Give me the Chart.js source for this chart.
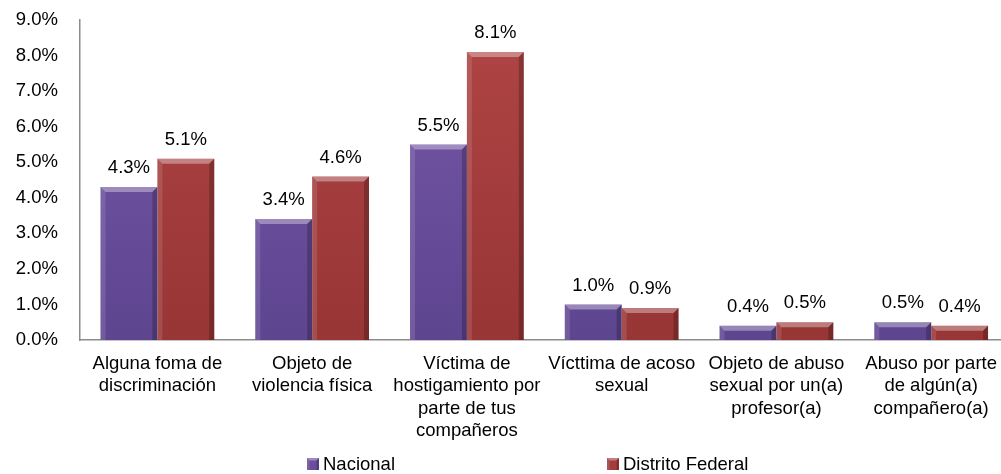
<!DOCTYPE html>
<html>
<head>
<meta charset="utf-8">
<script src="https://cdn.jsdelivr.net/npm/chart.js@4/dist/chart.umd.min.js"></script>
<style>
  html, body { margin: 0; padding: 0; background: #fff; overflow: hidden; }
  #wrap { width: 1010px; height: 474px; }
</style>
</head>
<body>
<div id="wrap"><canvas id="myChart" width="1010" height="474"></canvas></div>
<script>
// Data chart
const categories = [
    ["Alguna foma de", "discriminación"],
    ["Objeto de", "violencia física"],
    ["Víctima de", "hostigamiento por", "parte de tus", "compañeros"],
    ["Vícttima de acoso", "sexual"],
    ["Objeto de abuso", "sexual por un(a)", "profesor(a)"],
    ["Abuso por parte", "de algún(a)", "compañero(a)"]
];
const nacional = [4.3, 3.4, 5.5, 1.0, 0.4, 0.5];
const distritoFederal = [5.1, 4.6, 8.1, 0.9, 0.5, 0.4];
const seriesNames = ["Nacional", "Distrito Federal"];
const yTicks = [0, 1, 2, 3, 4, 5, 6, 7, 8, 9];

const FONT = "'Liberation Sans', Arial, sans-serif";
const FSIZE = 18.5;

// gradient vertikal untuk batang
function barGradient(top, bottom) {
    return function(context) {
        const chart = context.chart;
        const area = chart.chartArea;
        if (!area) return top;
        const g = chart.ctx.createLinearGradient(0, area.top, 0, area.bottom);
        g.addColorStop(0, top);
        g.addColorStop(1, bottom);
        return g;
    };
}

function drawBevel(ctx, x0, y0, x1, y1, b) {
    ctx.fillStyle = 'rgba(255,255,255,0.35)';
    ctx.beginPath();
    ctx.moveTo(x0, y0); ctx.lineTo(x1, y0);
    ctx.lineTo(x1 - b, y0 + b); ctx.lineTo(x0 + b, y0 + b);
    ctx.closePath(); ctx.fill();
    ctx.fillStyle = 'rgba(255,255,255,0.12)';
    ctx.beginPath();
    ctx.moveTo(x0, y0); ctx.lineTo(x0 + b, y0 + b);
    ctx.lineTo(x0 + b, y1); ctx.lineTo(x0, y1);
    ctx.closePath(); ctx.fill();
    ctx.fillStyle = 'rgba(0,0,0,0.22)';
    ctx.beginPath();
    ctx.moveTo(x1, y0); ctx.lineTo(x1 - b, y0 + b);
    ctx.lineTo(x1 - b, y1); ctx.lineTo(x1, y1);
    ctx.closePath(); ctx.fill();
}

// Plugin: efek bevel + label nilai di atas batang
const bevelLabels = {
    id: 'bevelLabels',
    afterDatasetsDraw(chart) {
        const ctx = chart.ctx;
        chart.data.datasets.forEach((ds, di) => {
            const meta = chart.getDatasetMeta(di);
            meta.data.forEach((bar, i) => {
                const w = bar.width;
                const h = bar.base - bar.y;
                ctx.save();
                drawBevel(ctx, bar.x - w / 2, bar.y, bar.x + w / 2, bar.base, Math.min(5, h / 2));
                ctx.restore();

                ctx.save();
                ctx.fillStyle = '#000';
                ctx.font = FSIZE + 'px ' + FONT;
                ctx.textAlign = 'center';
                ctx.textBaseline = 'middle';
                ctx.fillText(ds.data[i].toFixed(1) + '%', bar.x, bar.y - 19);
                ctx.restore();
            });
        });
    }
};

// Plugin: legenda manual (jarak antar item lebar seperti aslinya)
const legendPositions = [307, 607];
const legendColors = ['#6a4e9c', '#a43d3d'];
const customLegend = {
    id: 'customLegend',
    afterDraw(chart) {
        const ctx = chart.ctx;
        const y = 464;
        seriesNames.forEach((name, i) => {
            const x = legendPositions[i];
            ctx.save();
            ctx.fillStyle = legendColors[i];
            ctx.fillRect(x, y - 6, 12, 12);
            drawBevel(ctx, x, y - 6, x + 12, y + 6, 2.5);
            ctx.fillStyle = '#000';
            ctx.font = FSIZE + 'px ' + FONT;
            ctx.textAlign = 'left';
            ctx.textBaseline = 'middle';
            ctx.fillText(name, x + 16, y + 1);
            ctx.restore();
        });
    }
};

const ctx = document.getElementById('myChart').getContext('2d');
const myChart = new Chart(ctx, {
    type: 'bar',
    data: {
        labels: categories,
        datasets: [{
            label: seriesNames[0],
            data: nacional,
            backgroundColor: barGradient('#7658a8', '#5e4590'),
            borderWidth: 0,
            categoryPercentage: 0.735,
            barPercentage: 1.0
        }, {
            label: seriesNames[1],
            data: distritoFederal,
            backgroundColor: barGradient('#b04545', '#983535'),
            borderWidth: 0,
            categoryPercentage: 0.735,
            barPercentage: 1.0
        }]
    },
    options: {
        responsive: false,
        animation: false,
        layout: { padding: { top: 0, right: 0, bottom: 26, left: 0 } },
        plugins: {
            tooltip: { enabled: false },
            legend: { display: false }
        },
        scales: {
            x: {
                grid: { display: false, drawTicks: false },
                border: { display: true, color: '#8c8c8c', width: 1.5 },
                ticks: {
                    color: '#000',
                    font: { family: FONT, size: FSIZE, lineHeight: 1.2 },
                    padding: 13,
                    maxRotation: 0,
                    autoSkip: false
                },
                afterFit(scale) { scale.height = 108; }
            },
            y: {
                min: 0,
                max: 9,
                afterBuildTicks(scale) {
                    scale.ticks = yTicks.map(v => ({ value: v }));
                },
                grid: { display: false, drawTicks: false },
                border: { display: true, color: '#8c8c8c', width: 1.5 },
                ticks: {
                    color: '#000',
                    font: { family: FONT, size: FSIZE },
                    padding: 22,
                    autoSkip: false,
                    callback: v => v.toFixed(1) + '%'
                },
                afterFit(scale) {
                    scale.width = 80;
                    scale.paddingTop = 20;
                    scale.paddingBottom = 12;
                }
            }
        }
    },
    plugins: [bevelLabels, customLegend]
});
</script>
</body>
</html>
